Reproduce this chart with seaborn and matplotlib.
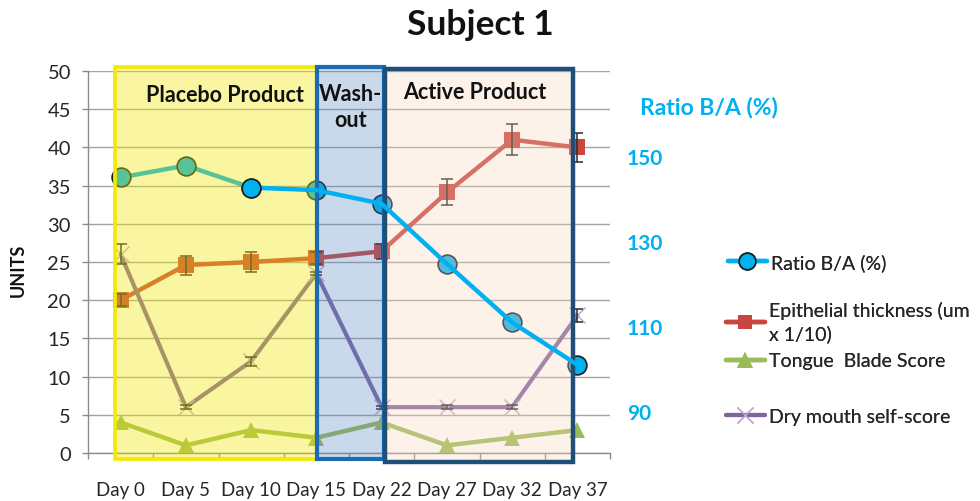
import numpy as np
import pandas as pd
import matplotlib
matplotlib.use("Agg")
import matplotlib.pyplot as plt
import seaborn as sns
from matplotlib.patches import Rectangle
from matplotlib.lines import Line2D

# ---------------- data ----------------
days = ['Day 0', 'Day 5', 'Day 10', 'Day 15', 'Day 22', 'Day 27', 'Day 32', 'Day 37']
ratio = [145.0, 147.8, 142.6, 142.0, 138.8, 124.6, 110.8, 100.8]
epithelial = [20.0, 24.6, 25.0, 25.5, 26.4, 34.1, 41.0, 40.0]
epithelial_err = [0.8, 1.25, 1.3, 0.8, 1.0, 1.7, 2.0, 1.9]
tongue = [4, 1, 3, 2, 4, 1, 2, 3]
dry_mouth = [26, 6, 12, 23.5, 6, 6, 6, 18]
dry_mouth_err = [1.3, 0.3, 0.6, 0.2, 0.2, 0.3, 0.3, 0.85]
left_ticks = [0, 5, 10, 15, 20, 25, 30, 35, 40, 45, 50]
right_ticks = [90, 110, 130, 150]
phase_labels = ['Placebo Product', 'Wash-\nout', 'Active Product']
series_labels = ['Ratio B/A (%)', 'Epithelial thickness (um\nx 1/10)',
                 'Tongue  Blade Score', 'Dry mouth self-score']

# ---------------- style ----------------
sns.set_theme(style="white")
plt.rcParams['font.family'] = ['Lato', 'DejaVu Sans']
TXT = '#262626'
CYAN = '#00B0F0'
RED = '#C9453F'
GREEN = '#9BBB59'
PURPLE = '#8064A2'
GRID = '#A3A3A3'

fig = plt.figure(figsize=(9.8, 5.02), dpi=100)
ax = fig.add_axes([88 / 980, 48 / 502, 522 / 980, 382 / 502])
ax.set_facecolor('none')

# main series (left axis)
sns.lineplot(x=days, y=epithelial, ax=ax, color=RED, linewidth=3.2, marker='s',
             markersize=11.5, markeredgewidth=0, sort=False, zorder=3)
ax.errorbar(days, epithelial, yerr=epithelial_err, fmt='none', ecolor='#2b2b2b',
            elinewidth=1.1, capsize=4, capthick=1.1, zorder=4)
sns.lineplot(x=days, y=tongue, ax=ax, color=GREEN, linewidth=3.2, marker='^',
             markersize=12, markeredgewidth=0, sort=False, zorder=3)
sns.lineplot(x=days, y=dry_mouth, ax=ax, color=PURPLE, linewidth=3.0, marker='x',
             markersize=11, markeredgewidth=1.0, markeredgecolor='#B9A6D0',
             sort=False, zorder=3)
ax.errorbar(days, dry_mouth, yerr=dry_mouth_err, fmt='none', ecolor='#2b2b2b',
            elinewidth=1.1, capsize=4, capthick=1.1, zorder=4)

ax.set_xlim(-0.5, 7.5)
ax.set_ylim(0, 50)
ax.set_yticks(left_ticks)
ax.set_xticks(range(len(days)))
ax.set_xticklabels(days)
ax.set_xticks(np.arange(-0.5, 8, 1), minor=True)
ax.yaxis.grid(True, color=GRID, linewidth=1)
ax.set_axisbelow(True)
for s in ['top', 'right']:
    ax.spines[s].set_visible(False)
for s in ['left', 'bottom']:
    ax.spines[s].set_color('#8C8C8C')
    ax.spines[s].set_linewidth(1)
ax.tick_params(axis='y', which='major', direction='out', length=4.3, width=1,
               color='#8C8C8C', pad=8, labelsize=14.5, labelcolor=TXT, left=True)
ax.tick_params(axis='x', which='major', length=0, pad=20, labelsize=13.5, labelcolor=TXT)
ax.tick_params(axis='x', which='minor', direction='out', length=4.3, width=1,
               color='#8C8C8C', bottom=True)
ax.set_xlabel('')
ax.set_ylabel('')

# secondary axis (ratio + phase boxes on top)
ax2 = ax.twinx()
ax2.set_ylim(80, 170.1)
ax2.set_xlim(-0.5, 7.5)

# ratio: first segment & markers below the overlays
sns.lineplot(x=days[:3], y=ratio[:3], ax=ax2, color=CYAN, linewidth=3.2,
             sort=False, zorder=1)
sns.lineplot(x=days, y=ratio, ax=ax2, color=CYAN, linewidth=0, marker='o',
             markersize=13.5, markeredgecolor='#1c1c1c', markeredgewidth=1.2,
             sort=False, zorder=1.2)

# phase boxes (in left-axis data units)
boxes = [(-0.08, 3.01, -0.8, 50.5, (0.94, 0.90, 0.0), 0.37, '#F2EA00', 2.6),
         (3.01, 4.03, -0.8, 50.5, (0.31, 0.51, 0.74), 0.30, '#1C6AB0', 3.0),
         (4.05, 6.93, -1.2, 50.3, (0.98, 0.84, 0.73), 0.30, '#1F4E79', 3.2)]
for x0, x1, y0, y1, fc, al, ec, lw in boxes:
    ax2.add_patch(Rectangle((x0, y0), x1 - x0, y1 - y0, transform=ax.transData,
                            facecolor=fc, alpha=al, edgecolor='none', zorder=2,
                            clip_on=False))
for x0, x1, y0, y1, fc, al, ec, lw in boxes:
    ax2.add_patch(Rectangle((x0, y0), x1 - x0, y1 - y0, transform=ax.transData,
                            facecolor='none', edgecolor=ec, linewidth=lw, zorder=2.5,
                            clip_on=False))

# ratio: rest of the line on top
sns.lineplot(x=days[2:], y=ratio[2:], ax=ax2, color=CYAN, linewidth=3.2,
             sort=False, zorder=3)
sns.lineplot(x=days[2:3], y=ratio[2:3], ax=ax2, color=CYAN, linewidth=0, marker='o',
             markersize=13.5, markeredgecolor='#1c1c1c', markeredgewidth=1.2,
             sort=False, zorder=3.2)

# phase labels
label_pos = [(1.6, 46.9), (3.52, 45.3), (5.43, 47.3)]
for (lx, ly), t in zip(label_pos, phase_labels):
    ax2.text(lx, ly, t, transform=ax.transData, ha='center', va='center',
             fontsize=15.5, fontweight='bold', color='#111111', linespacing=1.3,
             zorder=5)

for s in ax2.spines.values():
    s.set_visible(False)
ax2.set_yticks(right_ticks)
ax2.set_yticklabels([str(v) for v in right_ticks])
ax2.tick_params(axis='y', length=0, pad=12, labelsize=15, labelcolor=CYAN)
for lab in ax2.get_yticklabels():
    lab.set_fontweight('bold')
ax2.set_ylabel('')
ax2.grid(False)
if ax2.get_legend():
    ax2.get_legend().remove()

# texts
fig.text(480 / 980, 1 - 25 / 502, 'Subject 1', ha='center', va='center',
         fontsize=25.5, fontweight='bold', color='#111111')
fig.text(18 / 980, 1 - 270 / 502, 'UNITS', ha='center', va='center', rotation=90,
         fontsize=13, fontweight='bold', color='#111111')
fig.text(640 / 980, 1 - 107 / 502, 'Ratio B/A (%)', ha='left', va='center',
         fontsize=16.5, fontweight='bold', color=CYAN)

# legend (one per entry, to match the uneven spacing)
handles = [
    Line2D([], [], color=CYAN, linewidth=3.2, marker='o', markersize=12,
           markerfacecolor=CYAN, markeredgecolor='#1c1c1c', markeredgewidth=1.2),
    Line2D([], [], color=RED, linewidth=3.2, marker='s', markersize=10,
           markeredgewidth=0),
    Line2D([], [], color=GREEN, linewidth=3.2, marker='^', markersize=11,
           markeredgewidth=0),
    Line2D([], [], color=PURPLE, linewidth=3.0, marker='x', markersize=11,
           markeredgewidth=1.0, markeredgecolor='#B9A6D0'),
]
leg_y = [263, 323, 362, 417]
leg_x = [728, 726, 726, 726]
for h, l, yy, xx in zip(handles, series_labels, leg_y, leg_x):
    lg = fig.legend(handles=[h], labels=[l], loc='center left',
                    bbox_to_anchor=(xx / 980, 1 - yy / 502), frameon=False,
                    fontsize=14, handlelength=2.0, handletextpad=0.2,
                    borderpad=0, borderaxespad=0, labelcolor=TXT)
    for t in lg.get_texts():
        t.set_linespacing(1.35)
    fig.add_artist(lg)

fig.savefig('out.png', dpi=100)
